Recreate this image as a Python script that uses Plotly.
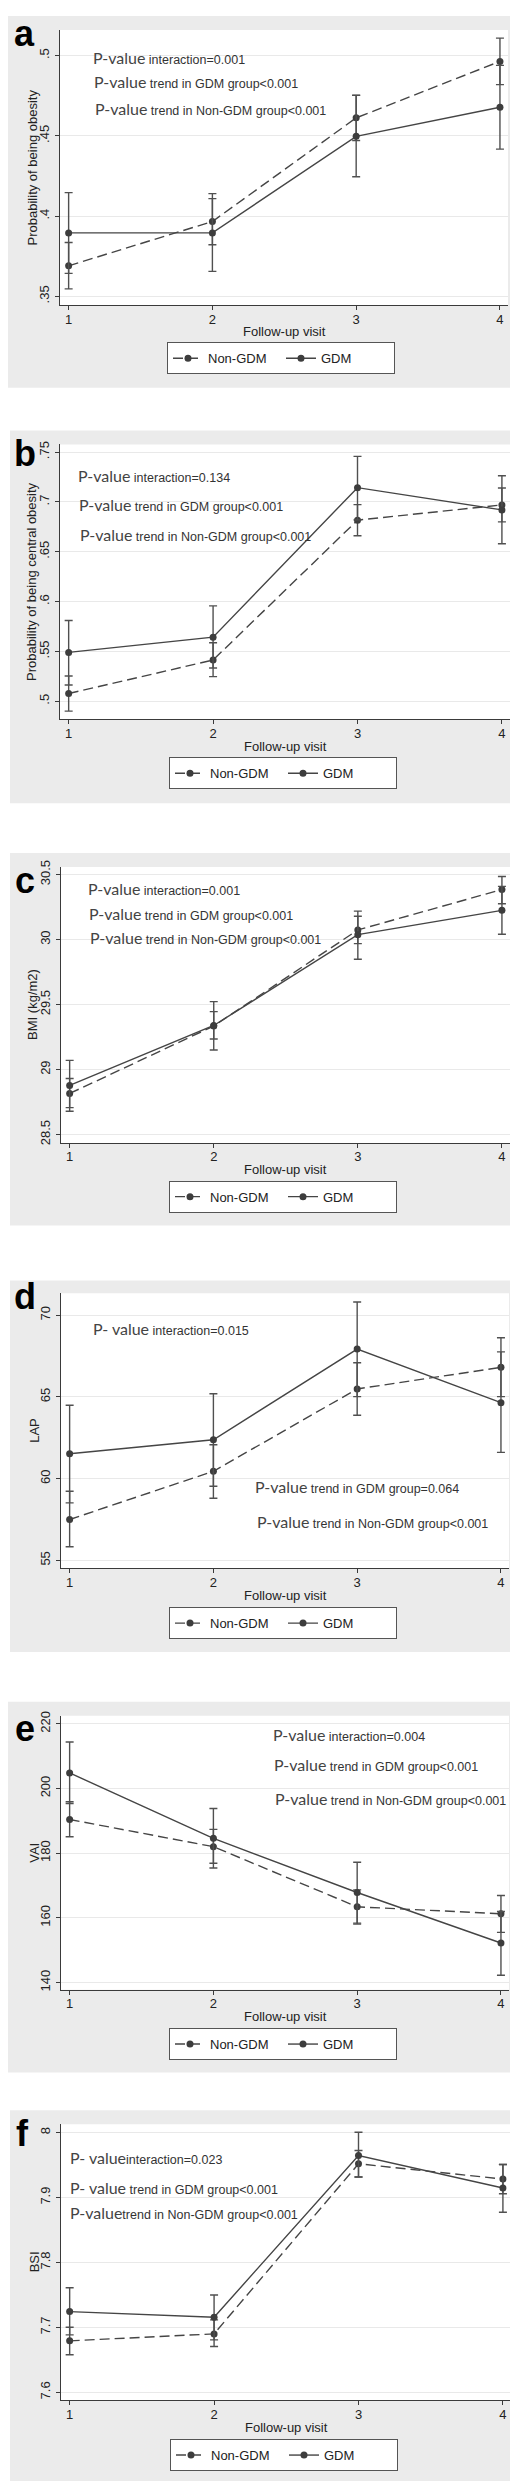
import plotly.graph_objects as go

W, H = 518, 2481
visits = [1, 2, 3, 4]
names = ["Non-GDM", "GDM"]

# ---- panel a: Probability of being obesity
a_non = [0.3690, 0.3966, 0.4612, 0.4964]
a_non_lo = [0.3546, 0.3821, 0.4471, 0.4819]
a_non_hi = [0.3835, 0.4109, 0.4753, 0.5109]
a_gdm = [0.3895, 0.3895, 0.4497, 0.4678]
a_gdm_lo = [0.3643, 0.3655, 0.4245, 0.4417]
a_gdm_hi = [0.4146, 0.4140, 0.4752, 0.4939]
a_ticks = [0.35, 0.40, 0.45, 0.50]
a_ticktext = [".35", ".4", ".45", ".5"]

# ---- panel b: Probability of being central obesity
b_non = [0.5077, 0.5413, 0.6817, 0.6970]
b_non_lo = [0.4900, 0.5247, 0.6660, 0.6800]
b_non_hi = [0.5253, 0.5587, 0.6973, 0.7140]
b_gdm = [0.5490, 0.5643, 0.7143, 0.6920]
b_gdm_lo = [0.5163, 0.5333, 0.6820, 0.6580]
b_gdm_hi = [0.5810, 0.5957, 0.7457, 0.7263]
b_ticks = [0.50, 0.55, 0.60, 0.65, 0.70, 0.75]
b_ticktext = [".5", ".55", ".6", ".65", ".7", ".75"]

# ---- panel c: BMI
c_non = [28.816, 29.335, 30.074, 30.385]
c_non_lo = [28.707, 29.235, 29.969, 30.275]
c_non_hi = [28.931, 29.446, 30.179, 30.485]
c_gdm = [28.878, 29.339, 30.038, 30.225]
c_gdm_lo = [28.679, 29.151, 29.849, 30.041]
c_gdm_hi = [29.071, 29.523, 30.219, 30.409]
c_ticks = [28.5, 29.0, 29.5, 30.0, 30.5]
c_ticktext = ["28.5", "29", "29.5", "30", "30.5"]

# ---- panel d: LAP
d_non = [57.50, 60.45, 65.49, 66.81]
d_non_lo = [55.83, 58.80, 63.88, 65.02]
d_non_hi = [59.23, 62.07, 67.09, 68.62]
d_gdm = [61.52, 62.38, 67.93, 64.65]
d_gdm_lo = [58.52, 59.53, 65.02, 61.61]
d_gdm_hi = [64.49, 65.20, 70.81, 67.76]
d_ticks = [55, 60, 65, 70]
d_ticktext = ["55", "60", "65", "70"]

# ---- panel e: VAI
e_non = [190.40, 182.00, 163.41, 161.26]
e_non_lo = [185.08, 176.87, 158.07, 155.50]
e_non_hi = [195.87, 187.34, 168.65, 166.90]
e_gdm = [204.80, 184.57, 167.83, 152.22]
e_gdm_lo = [195.35, 175.43, 158.38, 142.26]
e_gdm_hi = [214.35, 193.81, 177.18, 161.98]
e_ticks = [140, 160, 180, 200, 220]
e_ticktext = ["140", "160", "180", "200", "220"]

# ---- panel f: BSI
f_non = [7.6793, 7.6900, 7.9519, 7.9284]
f_non_lo = [7.6578, 7.6706, 7.9315, 7.9059]
f_non_hi = [7.7003, 7.7115, 7.9724, 7.9509]
f_gdm = [7.7243, 7.7156, 7.9647, 7.9146]
f_gdm_lo = [7.6885, 7.6808, 7.9315, 7.8772]
f_gdm_hi = [7.7611, 7.7499, 8.0005, 7.9509]
f_ticks = [7.6, 7.7, 7.8, 7.9, 8.0]
f_ticktext = ["7.6", "7.7", "7.8", "7.9", "8"]

letters = ["a", "b", "c", "d", "e", "f"]
y_titles = ["Probability of being obesity", "Probability of being central obesity",
            "BMI (kg/m2)", "LAP", "VAI", "BSI"]
x_title = "Follow-up visit"

PV = '<span style="font-family:Lato;font-size:16px;color:#444">P-value</span>'
PV2 = '<span style="font-family:Lato;font-size:16px;color:#444">P- value</span>'
p_texts = [
    [PV + " interaction=0.001", PV + " trend in GDM group&lt;0.001", PV + " trend in Non-GDM group&lt;0.001"],
    [PV + " interaction=0.134", PV + " trend in GDM group&lt;0.001", PV + " trend in Non-GDM group&lt;0.001"],
    [PV + " interaction=0.001", PV + " trend in GDM group&lt;0.001", PV + " trend in Non-GDM group&lt;0.001"],
    [PV2 + " interaction=0.015", PV + " trend in GDM group=0.064", PV + " trend in Non-GDM group&lt;0.001"],
    [PV + " interaction=0.004", PV + " trend in GDM group&lt;0.001", PV + " trend in Non-GDM group&lt;0.001"],
    [PV2 + "interaction=0.023", PV2 + " trend in GDM group&lt;0.001", PV + "trend in Non-GDM group&lt;0.001"],
]

data = [
    (a_non, a_non_lo, a_non_hi, a_gdm, a_gdm_lo, a_gdm_hi, a_ticks, a_ticktext),
    (b_non, b_non_lo, b_non_hi, b_gdm, b_gdm_lo, b_gdm_hi, b_ticks, b_ticktext),
    (c_non, c_non_lo, c_non_hi, c_gdm, c_gdm_lo, c_gdm_hi, c_ticks, c_ticktext),
    (d_non, d_non_lo, d_non_hi, d_gdm, d_gdm_lo, d_gdm_hi, d_ticks, d_ticktext),
    (e_non, e_non_lo, e_non_hi, e_gdm, e_gdm_lo, e_gdm_hi, e_ticks, e_ticktext),
    (f_non, f_non_lo, f_non_hi, f_gdm, f_gdm_lo, f_gdm_hi, f_ticks, f_ticktext),
]

# ---- layout geometry (pixels)
gray_boxes = [(0, 1, 513, 374), (2, 417, 517, 791), (2, 841, 517, 1215),
              (2, 1270, 515, 1643), (0, 1693, 515, 2065), (2, 2103, 517, 2478)]
plot_boxes = [(52, 15, 500, 291), (52, 431, 502, 707), (53, 855, 502, 1132),
              (53, 1283, 501, 1559), (53, 1707, 501, 1982), (53, 2117, 503, 2394)]
y_ranges = [(0.3446, 0.5160), (0.4817, 0.7577), (28.436, 30.559),
            (54.51, 71.34), (137.75, 222.46), (7.5877, 8.0127)]
x_range = (0.94, 4.056)
letter_pos = [(16, 19), (17, 440), (17, 869), (17, 1286), (17, 1720), (14, 2126)]
ytitle_x = [24, 24, 25, 27, 27, 26]
ptext_pos = [
    [(83, 43), (84, 67), (85, 94)],
    [(68, 462), (69, 491), (70, 521)],
    [(78, 877), (79, 902), (80, 926)],
    [(83, 1318), (245, 1477), (247, 1512)],
    [(263, 1726), (264, 1756), (265, 1790)],
    [(60, 2150), (60, 2180), (60, 2206)],
]
legend_pos = [(159, 344.5), (161, 761), (161, 1186), (161, 1614), (161, 2036.5), (162, 2449)]
legend_entry_w = [68, 68, 68, 68, 68, 68]


def px(x):
    return x / W


def py(y):
    return 1 - y / H


FONT = "Arial, 'Liberation Sans', sans-serif"
LINE = "#454545"
AX = "#3a3a3a"

fig = go.Figure()
shapes = []
annotations = []
layout = {}

for i in range(6):
    non, non_lo, non_hi, gdm, gdm_lo, gdm_hi, ticks, ticktext = data[i]
    n = "" if i == 0 else str(i + 1)
    xa, ya = "x" + n, "y" + n
    lg = "legend" + str(i + 2)
    for name, ys, lo, hi, dash in [(names[0], non, non_lo, non_hi, "10px,5px"),
                                  (names[1], gdm, gdm_lo, gdm_hi, "solid")]:
        fig.add_trace(go.Scatter(
            x=visits, y=ys, name=name, mode="lines+markers",
            xaxis=xa, yaxis=ya, legend=lg,
            line=dict(color=LINE, width=1.4, dash=dash),
            marker=dict(color="#3d3d3d", size=7, symbol="circle"),
            error_y=dict(type="data", symmetric=False,
                         array=[h - v for h, v in zip(hi, ys)],
                         arrayminus=[v - l for v, l in zip(ys, lo)],
                         color="#505050", thickness=1.4, width=4),
        ))
    gx0, gy0, gx1, gy1 = gray_boxes[i]
    shapes.append(dict(type="rect", xref="paper", yref="paper", layer="below",
                       x0=px(gx0), x1=px(gx1), y0=py(gy1), y1=py(gy0),
                       fillcolor="#ebebeb", line=dict(width=0)))
    shapes.append(dict(type="rect", xref=xa + " domain", yref=ya + " domain", layer="below",
                       x0=0, x1=1, y0=0, y1=1, fillcolor="white", line=dict(width=0)))
    l, t, r, b = plot_boxes[i]
    layout["xaxis" + n] = dict(
        domain=[px(l), px(r)], range=list(x_range), anchor=ya,
        tickvals=visits, ticktext=[str(v) for v in visits],
        ticks="outside", ticklen=4, tickcolor=AX, tickwidth=1, ticklabelstandoff=-2,
        showline=True, linecolor=AX, linewidth=1, showgrid=False, zeroline=False,
        tickfont=dict(size=13, color="#222", family=FONT),
    )
    layout["yaxis" + n] = dict(
        domain=[py(b), py(t)], range=list(y_ranges[i]), anchor=xa,
        tickvals=ticks, ticktext=ticktext, tickangle=-90,
        ticks="outside", ticklen=4, tickcolor=AX, tickwidth=1, ticklabelstandoff=1,
        showline=True, linecolor=AX, linewidth=1,
        showgrid=True, gridcolor="#e9e9e9", gridwidth=1, zeroline=False,
        tickfont=dict(size=13, color="#222", family=FONT),
    )
    # axis titles
    annotations.append(dict(text=x_title, x=px((l + r) / 2), y=py(b + 27),
                            xref="paper", yref="paper", xanchor="center", yanchor="middle",
                            showarrow=False, font=dict(size=13, color="#222", family=FONT)))
    annotations.append(dict(text=y_titles[i], x=px(ytitle_x[i]), y=py((t + b) / 2), textangle=-90,
                            xref="paper", yref="paper", xanchor="center", yanchor="middle",
                            showarrow=False, font=dict(size=13, color="#222", family=FONT)))
    lx, ly = legend_pos[i]
    layout[lg] = dict(
        orientation="h", x=px(lx), y=py(ly), xanchor="left", yanchor="middle",
        xref="paper", yref="paper",
        bgcolor="white", bordercolor="#555", borderwidth=1,
        font=dict(size=13, color="#222", family=FONT),
        traceorder="normal", entrywidth=legend_entry_w[i],
    )
    cx, cy = letter_pos[i]
    annotations.append(dict(text="<b>" + letters[i] + "</b>", x=px(cx), y=py(cy),
                            xref="paper", yref="paper", xanchor="center", yanchor="middle",
                            showarrow=False, font=dict(size=36, color="black", family=FONT)))
    for (tx, ty), txt in zip(ptext_pos[i], p_texts[i]):
        annotations.append(dict(text=txt, x=px(tx), y=py(ty), xref="paper", yref="paper",
                                xanchor="left", yanchor="middle", showarrow=False,
                                font=dict(size=12.5, color="#333", family=FONT)))

fig.update_layout(
    width=W, height=H, margin=dict(l=0, r=0, t=0, b=0),
    paper_bgcolor="white", plot_bgcolor="white",
    showlegend=True, shapes=shapes, annotations=annotations,
    font=dict(family=FONT, color="#222"),
    **layout,
)
fig.write_html("out.html")
